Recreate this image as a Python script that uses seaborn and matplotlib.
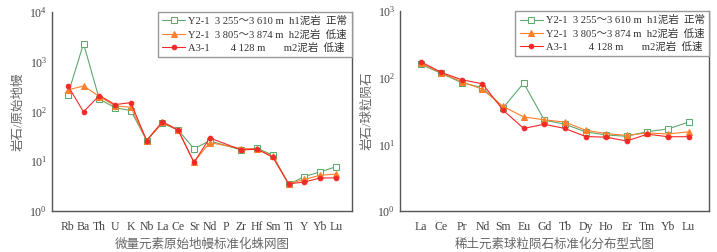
import numpy as np
import pandas as pd
import matplotlib
matplotlib.use("Agg")
import matplotlib.pyplot as plt
import seaborn as sns

# trace elements, primitive mantle normalised (P has no data)
trace_elems = ['Rb', 'Ba', 'Th', 'U', 'K', 'Nb', 'La', 'Ce', 'Sr', 'Nd', 'P',
               'Zr', 'Hf', 'Sm', 'Ti', 'Y', 'Yb', 'Lu']
trace_h1 = [214, 2300, 176, 119, 104, 26, 58, 42, 17.9, 25.5, np.nan,
            16.8, 18.2, 13.2, 3.4, 4.9, 6.1, 7.7]
trace_h2 = [270, 324, 199, 129, 121, 26, 60, 42, 9.6, 23.6, np.nan,
            17.9, 17.6, 12.5, 3.5, 4.3, 5.2, 5.5]
trace_m2 = [330, 98, 208, 137, 150, 26, 62, 42, 9.4, 29.3, np.nan,
            16.8, 17.4, 12.0, 3.5, 3.8, 4.6, 4.6]

# REE, chondrite normalised
ree_elems = ['La', 'Ce', 'Pr', 'Nd', 'Sm', 'Eu', 'Gd', 'Tb', 'Dy', 'Ho', 'Er',
             'Tm', 'Yb', 'Lu']
ree_h1 = [159, 116, 84, 71, 35.4, 83, 23.1, 20, 15.4, 13.8, 13.2, 15.5, 17, 21.5]
ree_h2 = [166, 118, 87, 67, 37, 25.8, 23.3, 21.6, 16.3, 14.5, 13.6, 14.8, 14.3, 15.4]
ree_m2 = [174, 120, 93, 81, 32.6, 17.3, 20, 17.3, 13.1, 12.8, 11.2, 14.2, 13, 13]

labels = ['Y2-1  3 255～3 610 m  h1泥岩  正常',
          'Y2-1  3 805～3 874 m  h2泥岩  低速',
          'A3-1        4 128 m       m2泥岩  低速']

sns.set_style("white")
plt.rcParams['font.family'] = ['Liberation Serif', 'Noto Sans CJK SC']
plt.rcParams['axes.unicode_minus'] = False

styles = [dict(color='#5fa86e', marker='s', markerfacecolor='white',
               markeredgecolor='#5fa86e', markersize=4.5),
          dict(color='#ff7f2a', marker='^', markerfacecolor='#ff7f2a',
               markeredgecolor='#ff7f2a', markersize=4),
          dict(color='#f52828', marker='o', markerfacecolor='#f52828',
               markeredgecolor='#f52828', markersize=3.3)]


def panel(ax, elems, series, ylim, title, ylabel):
    x = np.arange(len(elems))
    for vals, lab, st in zip(series, labels, styles):
        df = pd.DataFrame({'x': x, 'y': vals}).dropna()
        sns.lineplot(data=df, x='x', y='y', ax=ax, label=lab, linewidth=0.8,
                     **st)
    ax.set_yscale('log')
    ax.set_ylim(*ylim)
    ax.set_xlim(-1, len(elems))
    ax.set_xticks(x)
    ax.set_xticklabels(elems, fontsize=8.5, color='#444444')
    ax.tick_params(axis='both', direction='in', length=3, color='#555555',
                   labelsize=8.5, labelcolor='#444444')
    ax.tick_params(axis='x', pad=7)
    ax.minorticks_off()
    ax.set_yticks([10 ** k for k in range(int(np.log10(ylim[0])),
                                          int(np.log10(ylim[1])) + 1)])
    for s in ['left', 'bottom', 'right']:
        ax.spines[s].set_color('#555555')
        ax.spines[s].set_linewidth(1.0)
    ax.spines['top'].set_visible(False)
    ax.set_xlabel(title, fontsize=9, color='#666666', labelpad=4)
    ax.set_ylabel(ylabel, fontsize=9, color='#666666', labelpad=3)
    leg = ax.legend(loc='upper right', borderaxespad=0, fontsize=7.6,
                    fancybox=False, framealpha=1, edgecolor='#999999',
                    handlelength=2.2, handletextpad=0.3, borderpad=0.4,
                    labelspacing=0.3)
    leg.get_frame().set_linewidth(1.0)
    for t in leg.get_texts():
        t.set_color('#333333')


fig = plt.figure(figsize=(7.17, 2.52), dpi=100)
ax1 = fig.add_axes([0.0725, 0.163, 0.418, 0.79])
ax2 = fig.add_axes([0.558, 0.163, 0.431, 0.793])

panel(ax1, trace_elems, [trace_h1, trace_h2, trace_m2], (1, 1e4),
      '微量元素原始地幔标准化蛛网图', '岩石/原始地幔')
panel(ax2, ree_elems, [ree_h1, ree_h2, ree_m2], (1, 1e3),
      '稀土元素球粒陨石标准化分布型式图', '岩石/球粒陨石')

plt.savefig("out.png", dpi=100)
